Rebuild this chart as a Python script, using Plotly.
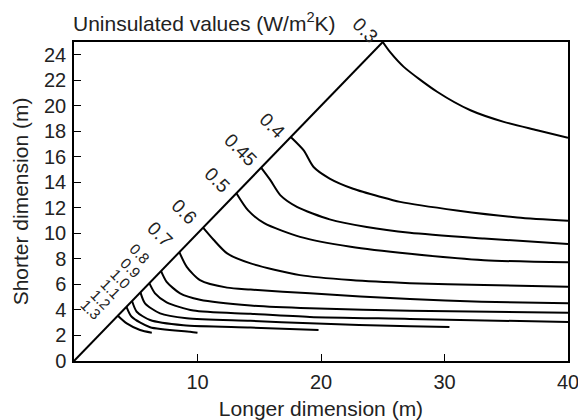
import plotly.graph_objects as go

# U-value contour levels (W/m2K), largest floor first
levels = ["0.3", "0.4", "0.45", "0.5", "0.6", "0.7", "0.8", "0.9", "1.0", "1.1", "1.2", "1.3"]

# Each contour: longer dimension (m) vs shorter dimension (m)
u030_x = [25.0, 25.6, 26.7, 29.4, 32.1, 34.8, 37.5, 40.0]
u030_y = [25.0, 24.2, 23.05, 21.1, 19.65, 18.74, 18.09, 17.5]

u040_x = [17.55, 18.6, 19.4, 20.7, 22.6, 24.8, 26.4, 31.0, 35.9, 40.0]
u040_y = [17.55, 16.5, 15.2, 14.3, 13.5, 12.87, 12.47, 11.8, 11.25, 10.99]

u045_x = [15.15, 15.9, 16.7, 18.05, 20.7, 23.7, 27.2, 33.2, 40.0]
u045_y = [15.15, 14.17, 13.0, 12.08, 11.1, 10.5, 10.05, 9.6, 9.16]

u050_x = [13.15, 14.1, 15.4, 18.3, 22.4, 27.2, 33.2, 40.0]
u050_y = [13.15, 11.8, 10.8, 9.73, 8.95, 8.4, 7.9, 7.73]

u060_x = [10.45, 11.3, 12.4, 14.3, 18.3, 22.4, 27.2, 33.2, 40.0]
u060_y = [10.45, 9.5, 8.43, 7.65, 6.73, 6.34, 6.1, 5.95, 5.82]

u070_x = [8.53, 9.13, 10.2, 12.4, 14.3, 19.1, 27.2, 33.0, 40.0]
u070_y = [8.53, 7.38, 6.34, 5.75, 5.6, 5.3, 4.85, 4.65, 4.52]

u080_x = [7.05, 7.5, 8.59, 10.2, 14.3, 19.1, 27.2, 40.0]
u080_y = [7.05, 6.21, 5.3, 4.8, 4.35, 4.13, 3.94, 3.78]

u090_x = [6.1, 6.56, 7.5, 9.67, 14.3, 19.1, 27.2, 40.0]
u090_y = [6.1, 5.3, 4.6, 3.95, 3.7, 3.45, 3.3, 3.05]

u100_x = [5.38, 5.75, 6.97, 9.13, 14.3, 19.1, 27.2, 30.4]
u100_y = [5.38, 4.52, 3.73, 3.35, 3.15, 2.95, 2.72, 2.66]

u110_x = [4.7, 5.08, 6.16, 8.86, 14.3, 19.8]
u110_y = [4.7, 3.86, 3.21, 2.8, 2.62, 2.43]

u120_x = [4.25, 4.67, 6.16, 9.4, 10.0]
u120_y = [4.25, 3.47, 2.65, 2.3, 2.22]

u130_x = [3.55, 4.27, 5.35, 6.3]
u130_y = [3.55, 2.95, 2.43, 2.22]

# Boundary where shorter dimension equals longer dimension
diag_x = [0, 25]
diag_y = [0, 25]

x_ticks = [10, 20, 30, 40]
y_ticks = list(range(0, 25, 2))

X_MAX, Y_MAX = 40, 25

curves = [
    (u030_x, u030_y), (u040_x, u040_y), (u045_x, u045_y), (u050_x, u050_y),
    (u060_x, u060_y), (u070_x, u070_y), (u080_x, u080_y), (u090_x, u090_y),
    (u100_x, u100_y), (u110_x, u110_y), (u120_x, u120_y), (u130_x, u130_y),
]

FONT = "Liberation Sans, Arial, sans-serif"
INK = "#222"

fig = go.Figure()

fig.add_trace(go.Scatter(x=diag_x, y=diag_y, mode="lines",
                         line=dict(color="black", width=2), showlegend=False,
                         hoverinfo="skip", cliponaxis=False))

for (cx, cy), lev in zip(curves, levels):
    fig.add_trace(go.Scatter(x=cx, y=cy, mode="lines", name=lev,
                             line=dict(color="black", width=2, shape="spline", smoothing=0.7),
                             showlegend=False))

# Level labels set just outside the diagonal, rotated across it
label_pos = {
    "0.3": (23.6, 25.9), "0.4": (16.05, 18.45), "0.45": (13.45, 16.55),
    "0.5": (11.55, 14.2), "0.6": (8.9, 11.7), "0.7": (7.0, 9.95),
    "0.8": (5.3, 8.4), "0.9": (4.55, 7.3), "1.0": (3.75, 6.45),
    "1.1": (2.95, 5.65), "1.2": (2.15, 4.8), "1.3": (1.35, 4.0),
}
small = {"0.8", "0.9", "1.0", "1.1", "1.2", "1.3"}
for lev in levels:
    lx, ly = label_pos[lev]
    # paper coordinates keep labels visible even above the axis range
    fig.add_annotation(x=lx / X_MAX, y=ly / Y_MAX, xref="paper", yref="paper",
                       xanchor="center", yanchor="middle",
                       text=lev, showarrow=False, textangle=45,
                       font=dict(family=FONT, size=15 if lev in small else 19, color=INK))

fig.add_annotation(x=0, y=1, xref="paper", yref="paper", xanchor="left", yanchor="bottom",
                   xshift=-3, yshift=5, showarrow=False,
                   text="Uninsulated values (W/m<sup>2</sup>K)",
                   font=dict(family=FONT, size=21, color=INK))

axis_font = dict(family=FONT, size=20, color=INK)
title_font = dict(family=FONT, size=21, color=INK)
common = dict(ticks="inside", ticklen=7, tickcolor="black", tickwidth=1,
              showline=True, linecolor="black", linewidth=1.5, mirror=True,
              showgrid=False, zeroline=False, tickfont=axis_font, automargin=False,
              ticklabeloverflow="allow", ticklabelstandoff=2)
fig.update_xaxes(range=[0, X_MAX], tickvals=x_ticks,
                 title=dict(text="Longer dimension (m)", font=title_font, standoff=10),
                 **common)
fig.update_yaxes(range=[0, Y_MAX], tickvals=y_ticks,
                 title=dict(text="Shorter dimension (m)", font=title_font, standoff=10),
                 **common)

fig.update_layout(width=578, height=420, plot_bgcolor="white", paper_bgcolor="white",
                  margin=dict(l=74, r=10, t=42, b=59))

fig.write_html("out.html")
